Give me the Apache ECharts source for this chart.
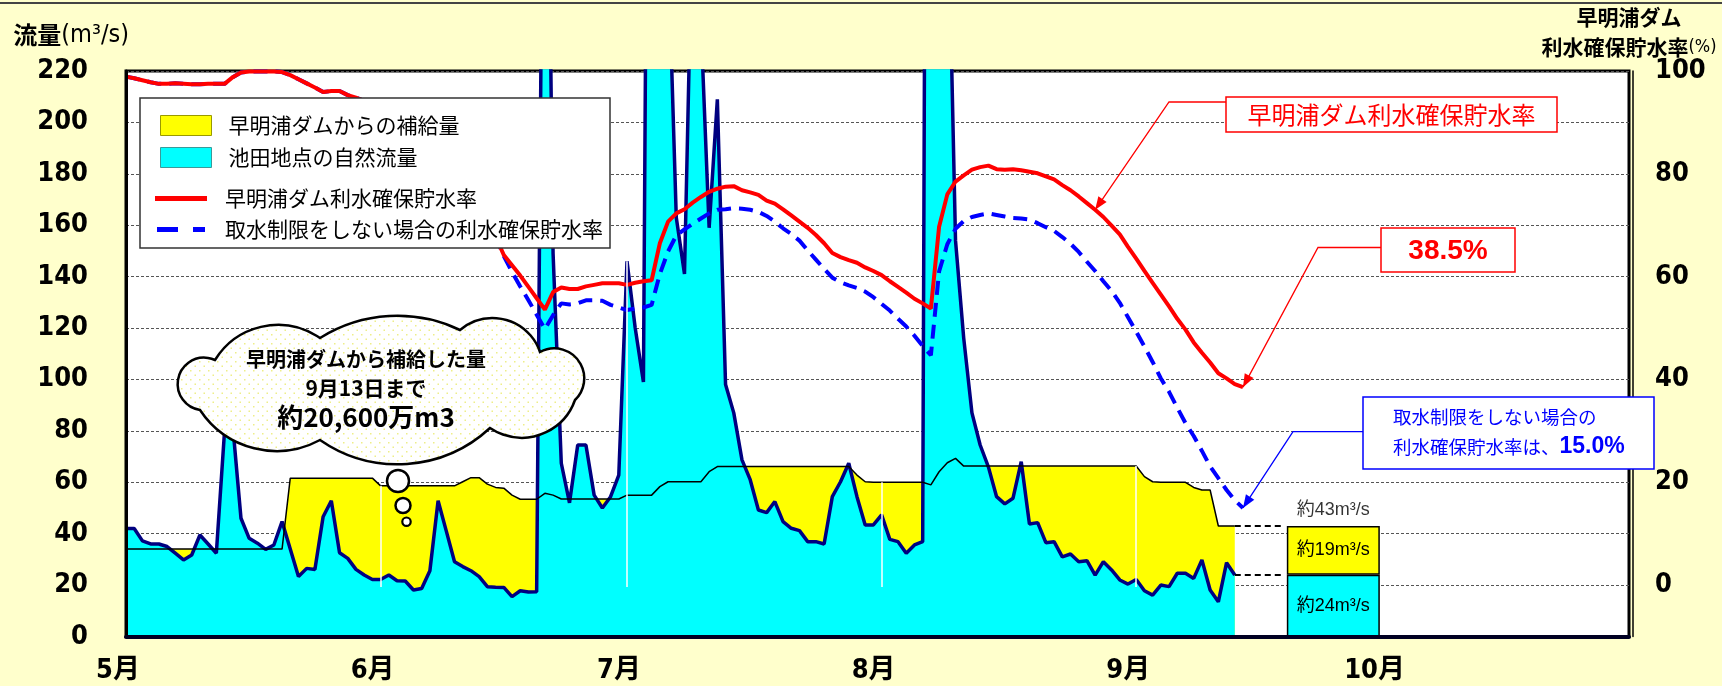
<!DOCTYPE html>
<html lang="ja">
<head>
<meta charset="utf-8">
<title>早明浦ダム 利水確保貯水率と池田地点流量</title>
<script src="https://cdn.jsdelivr.net/npm/echarts@6/dist/echarts.min.js"></script>
<style>
  html, body { margin: 0; padding: 0; background: #ffffcc; }
  #chart { width: 1722px; height: 686px; }
</style>
</head>
<body>
<div id="chart"></div>
<script>
// natural flow at Ikeda (m3/s), daily 5/1 - 9/13
const naturalFlow = [
  42, 42, 37.2, 36, 36, 35, 32.4, 29.8, 31.7, 39.5,
  36, 32.4, 80, 82, 46, 38.2, 36.3, 33.9, 35.6, 44.7,
  34, 23.3, 26.5, 26.1, 46.6, 52.8, 32.6, 30.4, 26.1, 23.9,
  22.2, 22.2, 23.9, 21.7, 21.6, 18.1, 18.7, 25.6, 52.8, 41,
  29.1, 27.2, 25.6, 23.3, 19.4, 19.2, 19.1, 15.5, 17.8, 17.3,
  17.4, 413, 149, 67.4, 52, 74.5, 74.5, 55, 50, 54.4,
  62.8, 146, 120, 99, 600, 500, 268, 163, 141, 287,
  239, 159, 209, 98, 87, 68.7, 61, 49.2, 48.2, 52.5,
  44.7, 42.1, 41.2, 36.9, 36.9, 36, 54.4, 60.2, 67.4, 54.4,
  43.4, 43.4, 47.3, 37.8, 36.9, 32.4, 35.6, 36.9, 900, 500,
  300, 154, 116, 87, 74.5, 66, 54.4, 51.6, 53.8, 68,
  43.8, 44.3, 36.5, 36.9, 31, 32.1, 29.1, 29.5, 23.9, 29.1,
  25.9, 22, 20.4, 22.2, 17.8, 16.1, 20, 19.4, 24.6, 24.6,
  22.6, 29.8, 18.1, 13.5, 28.7, 23.9
];
// natural flow + supply from the dam (m3/s), same days
const totalFlow = [
  34, 34, 34, 34, 34, 34, 34, 34, 34, 34,
  34, 34, 34, 34, 34, 34, 34, 34, 34, 34,
  61.6, 61.6, 61.6, 61.6, 61.6, 61.6, 61.6, 61.6, 61.6, 61.6,
  61.6, 58.6, 58.6, 58.6, 58.6, 58.6, 58.6, 58.6, 58.6, 58.6,
  58.6, 60.2, 61.8, 61.8, 59.3, 58, 57.7, 55, 53.4, 53.4,
  53.4, 55.7, 55, 53.5, 53.5, 53.5, 53.5, 53.5, 53.5, 53.5,
  53.5, 55, 55, 55, 55, 58.3, 60.2, 60.2, 60.2, 60.2,
  60.2, 64.1, 66.1, 66.1, 66.1, 66.1, 66.1, 66.1, 66.1, 66.1,
  66.1, 66.1, 66.1, 66.1, 66.1, 66.1, 66.1, 66.1, 66.1, 62.8,
  60.2, 60, 60, 60, 60, 60, 60, 60, 59, 64.1,
  67.6, 69.3, 66.3, 66.3, 66.3, 66.3, 66.3, 66.3, 66.3, 66.3,
  66.3, 66.3, 66.3, 66.3, 66.3, 66.3, 66.3, 66.3, 66.3, 66.3,
  66.3, 66.3, 66.3, 66.3, 62.2, 60.2, 60, 60, 60, 60,
  58, 57, 57, 43, 43, 43
];
// storage rate (%), daily 5/1 - 9/14
const storageRate = [
  98.9, 98.6, 98.2, 97.8, 97.5, 97.5, 97.6, 97.5, 97.4, 97.4,
  97.5, 97.5, 97.5, 98.8, 99.7, 99.9, 99.9, 99.9, 99.9, 99.8,
  99.2, 98.4, 97.6, 96.8, 95.9, 96.1, 96.1, 95.3, 94.8, 94.2,
  93.5, 92.6, 91.6, 90.4, 89.1, 87.7, 86.2, 84.6, 82.9, 81.1,
  79.2, 77.2, 75, 72.7, 70.3, 67.8, 64.2, 62.2, 60.2, 58,
  55.8, 53.6, 57, 57.9, 57.6, 57.6, 58.1, 58.4, 58.7, 58.7,
  58.7, 58.4, 58.8, 59.1, 59.3, 66.5, 70.7, 72.3, 73.1, 74.4,
  75.5, 76.5, 77.1, 77.5, 77.6, 76.8, 76.4, 75.9, 74.8, 74.2,
  73.1, 71.9, 70.7, 69.5, 68.1, 66.5, 64.6, 63.8, 63.2, 62.7,
  61.8, 61.1, 60.3, 59.1, 58, 56.9, 55.7, 54.8, 53.8, 69.7,
  76, 78.5, 79.7, 80.8, 81.3, 81.6, 80.9, 80.8, 80.9, 80.7,
  80.4, 80.1, 79.5, 78.9, 77.8, 76.8, 75.6, 74.3, 73, 71.6,
  69.9, 68.2, 65.8, 63.5, 61.1, 58.8, 56.5, 54.2, 51.8, 49.7,
  47.2, 45.2, 43.3, 41.2, 40.2, 39.1, 38.5
];
// storage rate without intake restriction (%)
const storageRateNoLimit = [
  98.9, 98.6, 98.2, 97.8, 97.5, 97.5, 97.6, 97.5, 97.4, 97.4,
  97.5, 97.5, 97.5, 98.8, 99.7, 99.9, 99.9, 99.9, 99.9, 99.8,
  99.2, 98.4, 97.6, 96.8, 95.9, 96.1, 96.1, 95.3, 94.8, 94.2,
  93.5, 92.6, 91.6, 90.4, 89.1, 87.7, 86.2, 84.6, 82.9, 81.1,
  79.2, 77.2, 75, 72.7, 70.3, 67.8, 64, 60.9, 58.1, 55.4,
  52.6, 49.8, 52.5, 54.8, 54.6, 54.8, 55.4, 55.4, 55.3, 54.5,
  54, 53.5, 53.8, 54, 54.5, 60.5, 64.9, 68, 69.2, 70.3,
  71.3, 72.3, 73, 73.1, 73.3, 73.2, 73, 72.6, 71.8, 70.7,
  69.4, 68.3, 67, 65.1, 63.3, 61.5, 59.8, 58.9, 58.3, 57.8,
  57.1, 56, 54.7, 53.4, 51.8, 50.3, 48.5, 46.5, 44.7, 61,
  66.3, 69.3, 70.8, 71.6, 72, 72.3, 72, 71.7, 71.4, 71.3,
  71.1, 70.4, 69.6, 68.9, 67.7, 66.4, 64.8, 62.9, 61.1, 59.1,
  57.2, 54.9, 52.1, 49.3, 46.4, 43.4, 40.2, 37.6, 34.5, 31.5,
  29, 26.1, 23.1, 20.8, 18.5, 16.5, 15
];
// months on the x axis and their lengths
const months = [5, 6, 7, 8, 9, 10];
const monthDays = [31, 30, 31, 31, 30, 31];
// day indexes where the white drop lines sit (5/1, 6/1, 7/1, 8/1, 9/1)
const monthStarts = [0, 31, 61, 92, 123];
const dropLineBase = 19.3;
// current flow block at the right
const forecastIndex = 147;
const forecastNatural = 24;
const forecastSupply = 19;
const forecastTotal = 43;

const days = [];
months.forEach((m, k) => {
  for (let d = 1; d <= monthDays[k]; d++) days.push(m + '/' + d);
});
const lastFlow = naturalFlow.length - 1;
const lastRate = storageRate.length - 1;

const numFont = "'Liberation Sans Narrow', 'Arial Narrow', 'DejaVu Sans Condensed', 'Noto Sans CJK JP', sans-serif";
const jpFont = "'Noto Sans CJK JP', 'Noto Sans', sans-serif";
const arialFont = "'Liberation Sans', Arial, 'Noto Sans CJK JP', sans-serif";

// cloud call-out: lobes as [x1, y1, x2, y2, bulge], walked clockwise
const cloudLobes = [
  [200, 410, 215, 360, 30],
  [215, 360, 320, 338, 23],
  [320, 338, 460, 330, 18],
  [460, 330, 540, 352, 22],
  [540, 352, 575, 400, 26],
  [575, 400, 490, 428, 22],
  [490, 428, 320, 440, 30],
  [320, 440, 200, 410, 24]
];
echarts.graphic.registerShape('cloud', echarts.graphic.extendShape({
  shape: { lobes: [] },
  buildPath(ctx, shape) {
    shape.lobes.forEach(([x1, y1, x2, y2, s], k) => {
      const c = Math.hypot(x2 - x1, y2 - y1);
      const h = c / 2;
      const nx = (y2 - y1) / c;
      const ny = -(x2 - x1) / c;
      const r = (s * s + h * h) / (2 * s);
      const cx = (x1 + x2) / 2 - nx * (r - s);
      const cy = (y1 + y2) / 2 - ny * (r - s);
      if (k === 0) ctx.moveTo(x1, y1);
      ctx.arc(cx, cy, r, Math.atan2(y1 - cy, x1 - cx), Math.atan2(y2 - cy, x2 - cx), false);
    });
    ctx.closePath();
  }
}));

const chart = echarts.init(document.getElementById('chart'));

const option = {
  backgroundColor: '#ffffcc',
  animation: false,
  textStyle: { fontFamily: jpFont },
  grid: {
    left: 126, right: 93, top: 71, bottom: 49.5,
    show: true, backgroundColor: '#fff', borderColor: '#000', borderWidth: 3,
    outerBoundsMode: 'none'
  },
  legend: [
    {
      data: [
        { name: '早明浦ダムからの補給量', icon: 'rect', itemStyle: { color: '#ffff00', borderColor: '#9a9a00', borderWidth: 1 } },
        { name: '池田地点の自然流量', icon: 'rect', itemStyle: { color: '#00ffff', borderColor: '#3a9a9a', borderWidth: 1 } }
      ],
      orient: 'vertical', left: 160, top: 115, padding: 0,
      itemWidth: 51, itemHeight: 20, itemGap: 11, selectedMode: false, z: 60,
      textStyle: { fontSize: 21, color: '#000', fontFamily: jpFont, lineHeight: 20, padding: [0, 0, 0, 12] }
    },
    {
      data: [
        { name: '早明浦ダム利水確保貯水率', icon: 'rect', itemStyle: { color: '#ff0000', borderWidth: 0 } },
        { name: '取水制限をしない場合の利水確保貯水率', icon: 'path://M0,0h21v5h-21z M36,0h12v5h-12z', itemStyle: { color: '#0000ff', borderWidth: 0 } }
      ],
      orient: 'vertical', left: 155, top: 188, padding: 0,
      itemWidth: 52, itemHeight: 5, itemGap: 10, selectedMode: false, z: 60,
      textStyle: { fontSize: 21, color: '#000', fontFamily: jpFont, lineHeight: 20, padding: [0, 0, 0, 13] }
    }
  ],
  xAxis: {
    type: 'category', data: days, boundaryGap: false, z: 10,
    axisLine: { show: true, lineStyle: { color: '#000022', width: 4 } },
    axisTick: { show: false },
    splitLine: { show: false },
    axisLabel: {
      interval: (i, v) => /\/1$/.test(v),
      formatter: v => v.split('/')[0] + '月',
      fontFamily: numFont, fontWeight: 'bold', fontSize: 27, color: '#000',
      margin: 21, padding: [0, 16, 0, 0]
    }
  },
  yAxis: [
    {
      type: 'value', position: 'left', min: 0, max: 220, interval: 20,
      name: '{a|流量}{b|(m³/s)}', nameLocation: 'end', nameGap: 36,
      nameTextStyle: {
        align: 'right', verticalAlign: 'middle', padding: [0, -3, 0, 0],
        rich: {
          a: { fontSize: 24, fontWeight: 'bold', fontFamily: jpFont, color: '#000' },
          b: { fontSize: 25, fontFamily: numFont, color: '#000' }
        }
      },
      axisLine: { show: false }, axisTick: { show: false },
      axisLabel: { fontFamily: numFont, fontWeight: 'bold', fontSize: 27, color: '#000', margin: 38 },
      splitLine: { show: true, lineStyle: { color: '#555', width: 1, type: [3, 2] } }
    },
    {
      type: 'value', position: 'right', min: -10, max: 100, interval: 10,
      name: '{a|早明浦ダム}\n{a|利水確保貯水率}{b|(%)}', nameLocation: 'end', nameGap: 36,
      nameTextStyle: {
        align: 'center', verticalAlign: 'middle',
        rich: {
          a: { fontSize: 21, fontWeight: 'bold', fontFamily: jpFont, color: '#000', lineHeight: 30 },
          b: { fontSize: 18, fontFamily: numFont, color: '#000', lineHeight: 30 }
        }
      },
      axisLine: { show: false }, axisTick: { show: false }, splitLine: { show: false },
      axisLabel: {
        formatter: v => (v >= 0 && v % 20 === 0) ? String(v) : '',
        fontFamily: numFont, fontWeight: 'bold', fontSize: 27, color: '#000', margin: 26
      }
    },
    {
      // left frame line drawn above the filled areas
      type: 'value', position: 'left', min: 0, max: 220, z: 10,
      axisLine: { show: true, lineStyle: { color: '#000', width: 3 } },
      axisTick: { show: false }, axisLabel: { show: false }, splitLine: { show: false }
    },
    {
      // second thin line of the double right frame
      type: 'value', position: 'right', offset: 4, min: 0, max: 220, z: 10,
      axisLine: { show: true, lineStyle: { color: '#000', width: 1.5 } },
      axisTick: { show: false }, axisLabel: { show: false }, splitLine: { show: false }
    }
  ],
  series: [
    {
      name: '早明浦ダムからの補給量', type: 'line', data: totalFlow, symbol: 'none', silent: true,
      lineStyle: { width: 0, opacity: 0 }, itemStyle: { color: '#ffff00' },
      areaStyle: { color: '#ffff00', opacity: 1 }
    },
    {
      name: '池田地点の自然流量', type: 'line', data: naturalFlow, symbol: 'none', silent: true,
      lineStyle: { color: '#000080', width: 3.5 }, itemStyle: { color: '#00ffff' },
      areaStyle: { color: '#00ffff', opacity: 1 }
    },
    {
      name: '合計流量', type: 'line', data: totalFlow, symbol: 'none', silent: true,
      lineStyle: { color: '#000', width: 1.5 }, itemStyle: { color: '#000' },
      markLine: {
        silent: true, symbol: ['none', 'none'], label: { show: false },
        lineStyle: { color: '#fff', width: 1.5, type: 'solid' },
        data: monthStarts.map(i => [
          { coord: [days[i], dropLineBase] },
          { coord: [days[i], Math.max(totalFlow[i], naturalFlow[i])] }
        ])
      }
    },
    {
      name: '取水制限をしない場合の利水確保貯水率', type: 'line', yAxisIndex: 1,
      data: storageRateNoLimit, symbol: 'none', silent: true,
      lineStyle: { color: '#0000ff', width: 4, type: [14, 8] }, itemStyle: { color: '#0000ff' }
    },
    {
      name: '早明浦ダム利水確保貯水率', type: 'line', yAxisIndex: 1,
      data: storageRate, symbol: 'none', silent: true,
      lineStyle: { color: '#ff0000', width: 4 }, itemStyle: { color: '#ff0000' }
    },
    {
      name: '現況自然流量', type: 'bar', stack: 'now', barWidth: 93, silent: true,
      data: [[days[forecastIndex], forecastNatural]],
      itemStyle: { color: '#00ffff', borderColor: '#000', borderWidth: 1.5 },
      label: {
        show: true, position: 'inside', color: '#000', fontSize: 18, fontFamily: arialFont,
        formatter: p => '約' + p.value[1] + 'm³/s'
      }
    },
    {
      name: '現況補給量', type: 'bar', stack: 'now', barWidth: 93, silent: true,
      data: [[days[forecastIndex], forecastSupply]],
      itemStyle: { color: '#ffff00', borderColor: '#000', borderWidth: 1.5 },
      label: {
        show: true, position: 'inside', color: '#000', fontSize: 18, fontFamily: arialFont,
        formatter: p => '約' + p.value[1] + 'm³/s'
      },
      markLine: {
        silent: true, symbol: ['none', 'none'], label: { show: false },
        lineStyle: { color: '#000', width: 2, type: [6, 4] },
        data: [
          [{ coord: [days[lastFlow], forecastTotal] }, { coord: [days[141], forecastTotal] }],
          [{ coord: [days[lastFlow], forecastNatural] }, { coord: [days[141], forecastNatural] }]
        ]
      }
    },
    {
      name: '現況合計', type: 'scatter', silent: true, symbolSize: 1,
      itemStyle: { color: 'rgba(0,0,0,0)' },
      data: [[days[forecastIndex], forecastTotal]],
      label: {
        show: true, position: 'top', distance: 6, color: '#000', fontSize: 18, fontFamily: arialFont,
        formatter: p => '約' + p.value[1] + 'm³/s'
      }
    }
  ]
};

chart.setOption(option);

// annotations (cloud, call-out boxes, arrows)
function arrow(points, color) {
  const [x1, y1] = points[points.length - 2];
  const [x2, y2] = points[points.length - 1];
  const a = Math.atan2(y2 - y1, x2 - x1);
  const bx = x2 - 13 * Math.cos(a);
  const by = y2 - 13 * Math.sin(a);
  const nx = 5 * Math.sin(a);
  const ny = 5 * Math.cos(a);
  return [
    { type: 'polyline', z: 70, silent: true, shape: { points }, style: { stroke: color, lineWidth: 1.3, fill: null } },
    { type: 'polygon', z: 70, silent: true, shape: { points: [[x2, y2], [bx + nx, by - ny], [bx - nx, by + ny]] }, style: { fill: color } }
  ];
}

const dots = document.createElement('canvas');
dots.width = 9;
dots.height = 9;
const dctx = dots.getContext('2d');
dctx.fillStyle = '#ffffff';
dctx.fillRect(0, 0, 9, 9);
dctx.fillStyle = '#eeee88';
dctx.fillRect(1, 1, 1.5, 1.5);
dctx.fillRect(5.5, 5.5, 1.5, 1.5);

const tipRed = chart.convertToPixel({ seriesIndex: 4 }, [days[118], storageRate[118]]);
const tipEnd = chart.convertToPixel({ seriesIndex: 4 }, [days[lastRate], storageRate[lastRate]]);
const tipBlue = chart.convertToPixel({ seriesIndex: 3 }, [days[lastRate], storageRateNoLimit[lastRate]]);

const graphic = [
  { type: 'line', z: 50, silent: true, shape: { x1: 0, y1: 3, x2: 1722, y2: 3 }, style: { stroke: '#444', lineWidth: 2 } },
  // legend box
  { type: 'rect', z: 55, silent: true, shape: { x: 140, y: 98, width: 470, height: 150 }, style: { fill: '#fff', stroke: '#333', lineWidth: 1.5 } },
  // cloud
  { type: 'cloud', z: 65, silent: true, shape: { lobes: cloudLobes }, style: { fill: { image: dots, repeat: 'repeat' }, stroke: '#000', lineWidth: 2.5 } },
  { type: 'circle', z: 65, silent: true, shape: { cx: 398, cy: 481, r: 11 }, style: { fill: '#fff', stroke: '#000', lineWidth: 2.5 } },
  { type: 'circle', z: 65, silent: true, shape: { cx: 403, cy: 505.5, r: 7.5 }, style: { fill: '#fff', stroke: '#000', lineWidth: 2.5 } },
  { type: 'circle', z: 65, silent: true, shape: { cx: 406.5, cy: 521.7, r: 4.2 }, style: { fill: '#fff', stroke: '#000', lineWidth: 2.2 } },
  { type: 'text', z: 66, silent: true, x: 366, y: 359, style: { text: '早明浦ダムから補給した量', fill: '#000', font: 'bold 20px ' + jpFont, align: 'center', verticalAlign: 'middle' } },
  { type: 'text', z: 66, silent: true, x: 366, y: 388, style: { text: '9月13日まで', fill: '#000', font: 'bold 21px ' + jpFont, align: 'center', verticalAlign: 'middle' } },
  { type: 'text', z: 66, silent: true, x: 366, y: 417, style: { text: '約20,600万m3', fill: '#000', font: 'bold 26px ' + jpFont, align: 'center', verticalAlign: 'middle' } },
  // red label box
  { type: 'rect', z: 68, silent: true, shape: { x: 1226, y: 97, width: 331, height: 35 }, style: { fill: '#fff', stroke: '#ff0000', lineWidth: 1.5 } },
  { type: 'text', z: 69, silent: true, x: 1391.5, y: 115, style: { text: '早明浦ダム利水確保貯水率', fill: '#ff0000', font: '24px ' + jpFont, align: 'center', verticalAlign: 'middle' } },
  ...arrow([[1226, 102], [1169, 102], tipRed], '#ff0000'),
  // 38.5% box
  { type: 'rect', z: 68, silent: true, shape: { x: 1381, y: 228, width: 134, height: 44 }, style: { fill: '#fff', stroke: '#ff0000', lineWidth: 1.5 } },
  { type: 'text', z: 69, silent: true, x: 1448, y: 251, style: { text: '38.5%', fill: '#ff0000', font: 'bold 28px ' + arialFont, align: 'center', verticalAlign: 'middle' } },
  ...arrow([[1381, 247.5], [1318, 247.5], tipEnd], '#ff0000'),
  // blue box
  { type: 'rect', z: 68, silent: true, shape: { x: 1363, y: 397, width: 291, height: 72 }, style: { fill: '#fff', stroke: '#0000ff', lineWidth: 1.5 } },
  { type: 'text', z: 69, silent: true, x: 1393, y: 417, style: { text: '取水制限をしない場合の', fill: '#0000ff', font: '18.5px ' + jpFont, align: 'left', verticalAlign: 'middle' } },
  {
    type: 'text', z: 69, silent: true, x: 1393, y: 447,
    style: {
      text: '{n|利水確保貯水率は、}{b|15.0%}', align: 'left', verticalAlign: 'middle',
      rich: {
        n: { fill: '#0000ff', fontSize: 18.5, fontFamily: jpFont },
        b: { fill: '#0000ff', fontSize: 23, fontWeight: 'bold', fontFamily: arialFont }
      }
    }
  },
  ...arrow([[1363, 431.7], [1293, 431.7], tipBlue], '#0000ff')
];

chart.setOption({ graphic });
</script>
</body>
</html>
